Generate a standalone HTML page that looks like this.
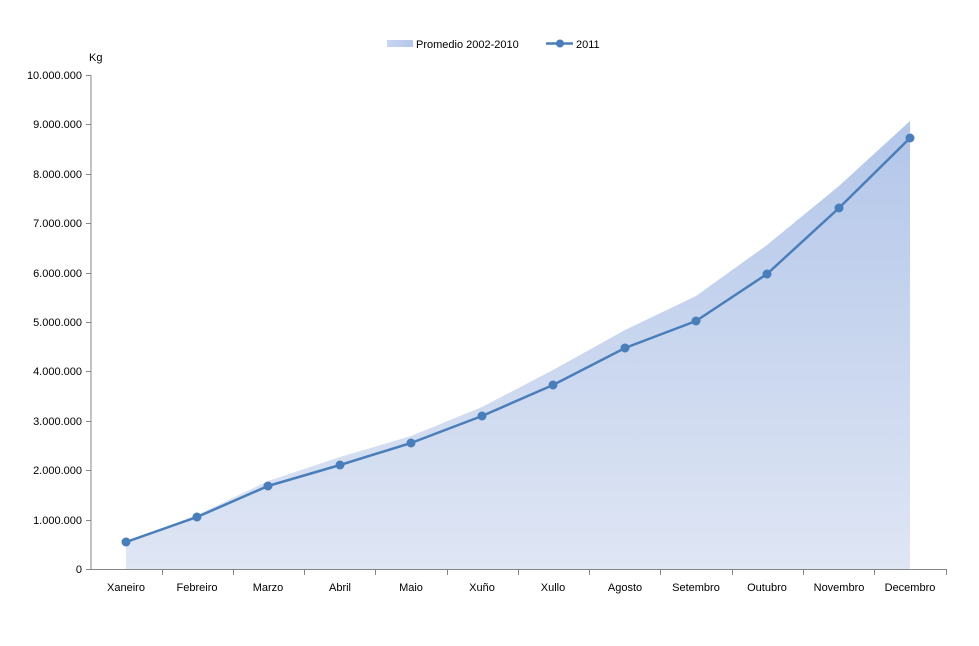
<!DOCTYPE html>
<html><head><meta charset="utf-8"><style>
html,body{margin:0;padding:0;background:#fff;}
svg text{font-family:"Liberation Sans",sans-serif;font-size:11px;fill:#000;}
</style></head><body>
<svg width="979" height="641" viewBox="0 0 979 641" xmlns="http://www.w3.org/2000/svg">
<defs>
<linearGradient id="g" x1="0" y1="0" x2="0" y2="1">
<stop offset="0" stop-color="#b3c6e9"/>
<stop offset="1" stop-color="#dfe6f4"/>
</linearGradient>
<linearGradient id="lg" x1="0" y1="0" x2="1" y2="0">
<stop offset="0" stop-color="#c9d6ef"/><stop offset="1" stop-color="#b3c6e9"/>
</linearGradient>
</defs>
<polygon fill="url(#g)" points="126,569 126,542 197,515 268,481 340,457 411,436 482,407 553,370 625,330 696,296 767,245 839,186 910,121 910,569"/>
<g stroke="#868686" stroke-width="1" shape-rendering="crispEdges">
<line x1="91" y1="75" x2="91" y2="569"/>
<line x1="91" y1="569.5" x2="946" y2="569.5"/>
<line x1="86" y1="75.5" x2="91" y2="75.5"/>
<line x1="86" y1="124.5" x2="91" y2="124.5"/>
<line x1="86" y1="174.5" x2="91" y2="174.5"/>
<line x1="86" y1="223.5" x2="91" y2="223.5"/>
<line x1="86" y1="273.5" x2="91" y2="273.5"/>
<line x1="86" y1="322.5" x2="91" y2="322.5"/>
<line x1="86" y1="371.5" x2="91" y2="371.5"/>
<line x1="86" y1="421.5" x2="91" y2="421.5"/>
<line x1="86" y1="470.5" x2="91" y2="470.5"/>
<line x1="86" y1="520.5" x2="91" y2="520.5"/>
<line x1="86" y1="569.5" x2="91" y2="569.5"/>
<line x1="162.5" y1="569" x2="162.5" y2="575"/>
<line x1="233.5" y1="569" x2="233.5" y2="575"/>
<line x1="304.5" y1="569" x2="304.5" y2="575"/>
<line x1="375.5" y1="569" x2="375.5" y2="575"/>
<line x1="447.5" y1="569" x2="447.5" y2="575"/>
<line x1="518.5" y1="569" x2="518.5" y2="575"/>
<line x1="589.5" y1="569" x2="589.5" y2="575"/>
<line x1="660.5" y1="569" x2="660.5" y2="575"/>
<line x1="732.5" y1="569" x2="732.5" y2="575"/>
<line x1="803.5" y1="569" x2="803.5" y2="575"/>
<line x1="874.5" y1="569" x2="874.5" y2="575"/>
<line x1="946.5" y1="569" x2="946.5" y2="575"/>
</g>
<g text-anchor="end">
<text x="82" y="79">10.000.000</text>
<text x="82" y="128">9.000.000</text>
<text x="82" y="178">8.000.000</text>
<text x="82" y="227">7.000.000</text>
<text x="82" y="277">6.000.000</text>
<text x="82" y="326">5.000.000</text>
<text x="82" y="375">4.000.000</text>
<text x="82" y="425">3.000.000</text>
<text x="82" y="474">2.000.000</text>
<text x="82" y="524">1.000.000</text>
<text x="82" y="573">0</text>
</g>
<text x="89" y="61">Kg</text>
<g text-anchor="middle">
<text x="126" y="591">Xaneiro</text>
<text x="197" y="591">Febreiro</text>
<text x="268" y="591">Marzo</text>
<text x="340" y="591">Abril</text>
<text x="411" y="591">Maio</text>
<text x="482" y="591">Xuño</text>
<text x="553" y="591">Xullo</text>
<text x="625" y="591">Agosto</text>
<text x="696" y="591">Setembro</text>
<text x="767" y="591">Outubro</text>
<text x="839" y="591">Novembro</text>
<text x="910" y="591">Decembro</text>
</g>
<polyline fill="none" stroke="#4a7ebb" stroke-width="2.5" stroke-linejoin="round" points="126,542 197,517 268,486 340,465 411,443 482,416 553,385 625,348 696,321 767,274 839,208 910,138"/>
<g fill="#4a7ebb">
<circle cx="126" cy="542" r="4.5"/><circle cx="197" cy="517" r="4.5"/><circle cx="268" cy="486" r="4.5"/>
<circle cx="340" cy="465" r="4.5"/><circle cx="411" cy="443" r="4.5"/><circle cx="482" cy="416" r="4.5"/>
<circle cx="553" cy="385" r="4.5"/><circle cx="625" cy="348" r="4.5"/><circle cx="696" cy="321" r="4.5"/>
<circle cx="767" cy="274" r="4.5"/><circle cx="839" cy="208" r="4.5"/><circle cx="910" cy="138" r="4.5"/>
</g>
<rect x="387" y="40" width="26" height="7" fill="url(#lg)"/>
<text x="416" y="48">Promedio 2002-2010</text>
<line x1="546" y1="43.5" x2="573" y2="43.5" stroke="#4a7ebb" stroke-width="2.5"/>
<circle cx="560" cy="43.5" r="4" fill="#4a7ebb"/>
<text x="576" y="48">2011</text>
</svg>
</body></html>
